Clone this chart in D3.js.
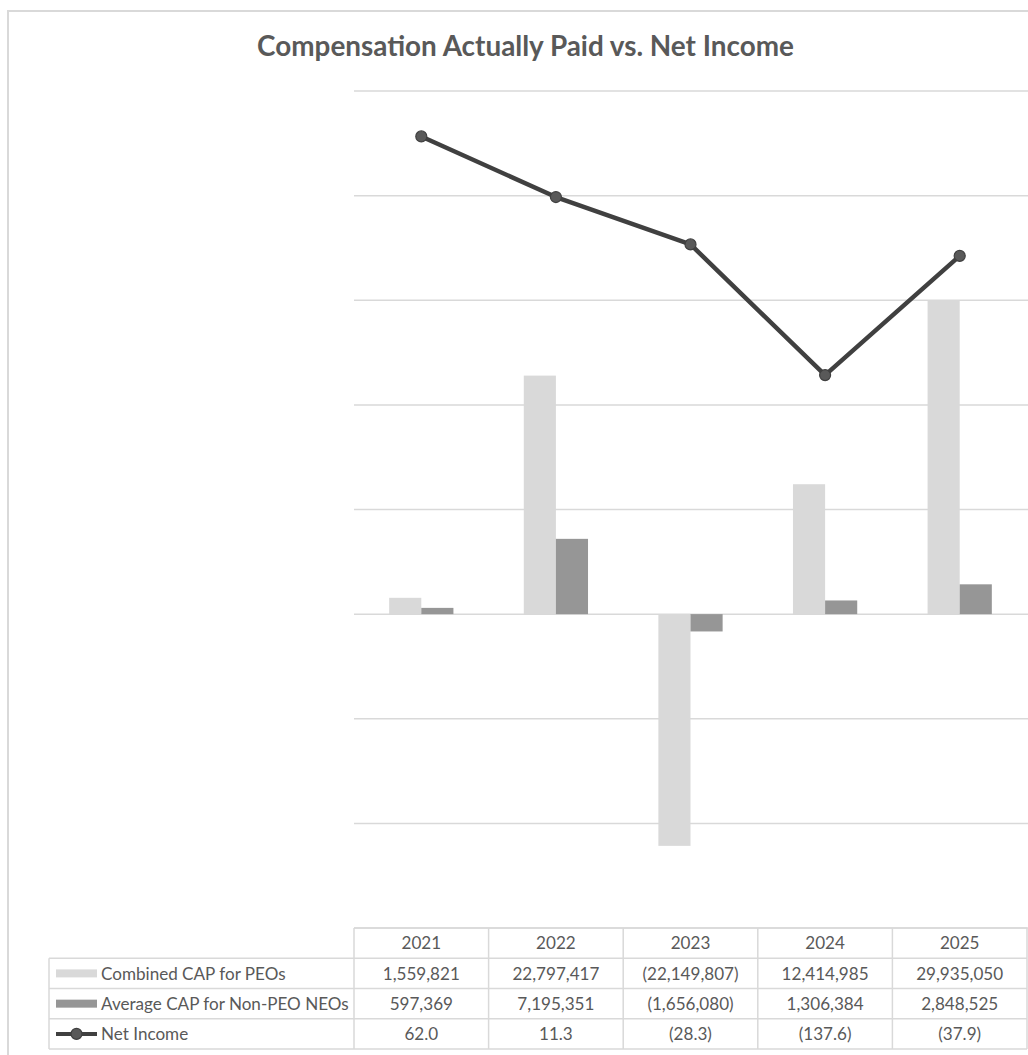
<!DOCTYPE html>
<html>
<head>
<meta charset="utf-8">
<script src="https://cdn.jsdelivr.net/npm/d3@7"></script>
<style>
  html, body { margin: 0; padding: 0; background: #ffffff; }
  svg { display: block; }
  text { font-family: Lato, "Open Sans", sans-serif; fill: #595959; }
</style>
</head>
<body>
<script>
// ---------------- data ----------------
const years = ["2021", "2022", "2023", "2024", "2025"];
const combinedCAP = [1559821, 22797417, -22149807, 12414985, 29935050];
const averageCAP = [597369, 7195351, -1656080, 1306384, 2848525];
const netIncome = [62.0, 11.3, -28.3, -137.6, -37.9];
const seriesNames = ["Combined CAP for PEOs", "Average CAP for Non-PEO NEOs", "Net Income"];
const primaryTicks = [-30e6, -20e6, -10e6, 0, 10e6, 20e6, 30e6, 40e6, 50e6];
const secondaryDomain = [-600, 100];
const chartTitle = "Compensation Actually Paid vs. Net Income";

// ---------------- layout ----------------
const W = 1028, H = 1055;
const plotLeft = 354, plotRight = 1027, plotTop = 91, plotBottom = 928;
const tableLeft = 49;
const rowEdges = [928, 958.3, 988.5, 1018.8, 1049];
const colors = { light: "#d9d9d9", dark: "#969696", line: "#404040", marker: "#595959", grid: "#d9d9d9", text: "#595959" };

const svg = d3.select("body").append("svg").attr("width", W).attr("height", H);

// outer chart border
svg.append("path")
  .attr("d", `M8,${H + 5} L8,11 L${W + 5},11`)
  .attr("fill", "none").attr("stroke", "#d9d9d9").attr("stroke-width", 2);

// scales
const x = d3.scaleBand().domain(years).range([plotLeft, plotRight]).paddingInner(0).paddingOuter(0);
const gap = 2.19;
const xs = d3.scaleBand().domain(["c", "a"]).range([0, x.bandwidth()]).paddingInner(0).paddingOuter(gap / 2);
const y = d3.scaleLinear().domain([primaryTicks[0], primaryTicks[primaryTicks.length - 1]]).range([plotBottom, plotTop]);
const y2 = d3.scaleLinear().domain(secondaryDomain).range([plotBottom, plotTop]);

// gridlines
svg.append("g").selectAll("line").data(primaryTicks).join("line")
  .attr("x1", plotLeft).attr("x2", W)
  .attr("y1", d => y(d)).attr("y2", d => y(d))
  .attr("stroke", colors.grid).attr("stroke-width", 1.5);

// bars
const barData = [];
years.forEach((yr, i) => {
  barData.push({ yr, key: "c", v: combinedCAP[i], fill: colors.light });
  barData.push({ yr, key: "a", v: averageCAP[i], fill: colors.dark });
});
svg.append("g").selectAll("rect").data(barData).join("rect")
  .attr("x", d => x(d.yr) + xs(d.key))
  .attr("width", xs.bandwidth())
  .attr("y", d => Math.min(y(d.v), y(0)))
  .attr("height", d => Math.abs(y(d.v) - y(0)))
  .attr("fill", d => d.fill);

// net income line
const cx = yr => x(yr) + x.bandwidth() / 2;
const lineData = years.map((yr, i) => ({ yr, v: netIncome[i] }));
svg.append("path").datum(lineData)
  .attr("d", d3.line().x(d => cx(d.yr)).y(d => y2(d.v)))
  .attr("fill", "none").attr("stroke", colors.line).attr("stroke-width", 4.5)
  .attr("stroke-linejoin", "round");
svg.append("g").selectAll("circle").data(lineData).join("circle")
  .attr("cx", d => cx(d.yr)).attr("cy", d => y2(d.v)).attr("r", 5.5)
  .attr("fill", colors.marker).attr("stroke", colors.line).attr("stroke-width", 1.2);

// title (fit to measured width)
function fitText(sel, target) {
  const w = sel.node().getComputedTextLength();
  const fs = parseFloat(sel.attr("font-size"));
  sel.attr("font-size", fs * target / w);
}
const title = svg.append("text")
  .attr("x", 525.5).attr("y", 56).attr("text-anchor", "middle")
  .attr("font-size", 27).attr("font-weight", "bold")
  .text(chartTitle);
fitText(title, 537);

// ---------------- data table ----------------
const tbl = svg.append("g");
const bStroke = { stroke: "#d9d9d9", "stroke-width": 1.5 };
function hLine(x1, x2, yy) {
  tbl.append("line").attr("x1", x1).attr("x2", x2).attr("y1", yy).attr("y2", yy)
    .attr("stroke", bStroke.stroke).attr("stroke-width", bStroke["stroke-width"]);
}
function vLine(xx, y1, y2v) {
  tbl.append("line").attr("x1", xx).attr("x2", xx).attr("y1", y1).attr("y2", y2v)
    .attr("stroke", bStroke.stroke).attr("stroke-width", bStroke["stroke-width"]);
}
hLine(plotLeft, plotRight, rowEdges[0]);
for (let r = 1; r < rowEdges.length; r++) hLine(tableLeft, plotRight, rowEdges[r]);
vLine(tableLeft, rowEdges[1], rowEdges[4]);
years.forEach(yr => vLine(x(yr), rowEdges[0], rowEdges[4]));
vLine(plotRight, rowEdges[0], rowEdges[4]);

// measure table font size
const probe = svg.append("text").attr("font-size", 15).text(seriesNames[1]);
const pw = probe.node().getComputedTextLength();
const tfs = 15 * 248 / pw;
probe.remove();

const rowMid = r => (rowEdges[r] + rowEdges[r + 1]) / 2;
const capOff = tfs * 0.36;

// header years
tbl.selectAll("text.yr").data(years).join("text").attr("class", "yr")
  .attr("x", d => cx(d)).attr("y", rowMid(0) + capOff)
  .attr("text-anchor", "middle").attr("font-size", tfs).text(d => d);

const fmtInt = d3.format(",");
const fmtNeg = (v, f) => v < 0 ? "(" + f(-v) + ")" : f(v);
const rows = [
  { vals: combinedCAP.map(v => fmtNeg(v, fmtInt)) },
  { vals: averageCAP.map(v => fmtNeg(v, fmtInt)) },
  { vals: netIncome.map(v => fmtNeg(v, d3.format(".1f"))) }
];
rows.forEach((row, r) => {
  const ym = rowMid(r + 1);
  tbl.append("text").attr("x", 101).attr("y", ym + capOff)
    .attr("font-size", tfs).text(seriesNames[r]);
  years.forEach((yr, i) => {
    tbl.append("text").attr("x", cx(yr)).attr("y", ym + capOff)
      .attr("text-anchor", "middle").attr("font-size", tfs).text(row.vals[i]);
  });
});

// legend keys
tbl.append("rect").attr("x", 56).attr("y", rowMid(1) - 4).attr("width", 41).attr("height", 8).attr("fill", colors.light);
tbl.append("rect").attr("x", 56).attr("y", rowMid(2) - 4).attr("width", 41).attr("height", 8).attr("fill", colors.dark);
tbl.append("line").attr("x1", 56).attr("x2", 97).attr("y1", rowMid(3)).attr("y2", rowMid(3))
  .attr("stroke", colors.line).attr("stroke-width", 4);
tbl.append("circle").attr("cx", 76.5).attr("cy", rowMid(3)).attr("r", 5.5)
  .attr("fill", colors.marker).attr("stroke", colors.line).attr("stroke-width", 1.2);
</script>
</body>
</html>
